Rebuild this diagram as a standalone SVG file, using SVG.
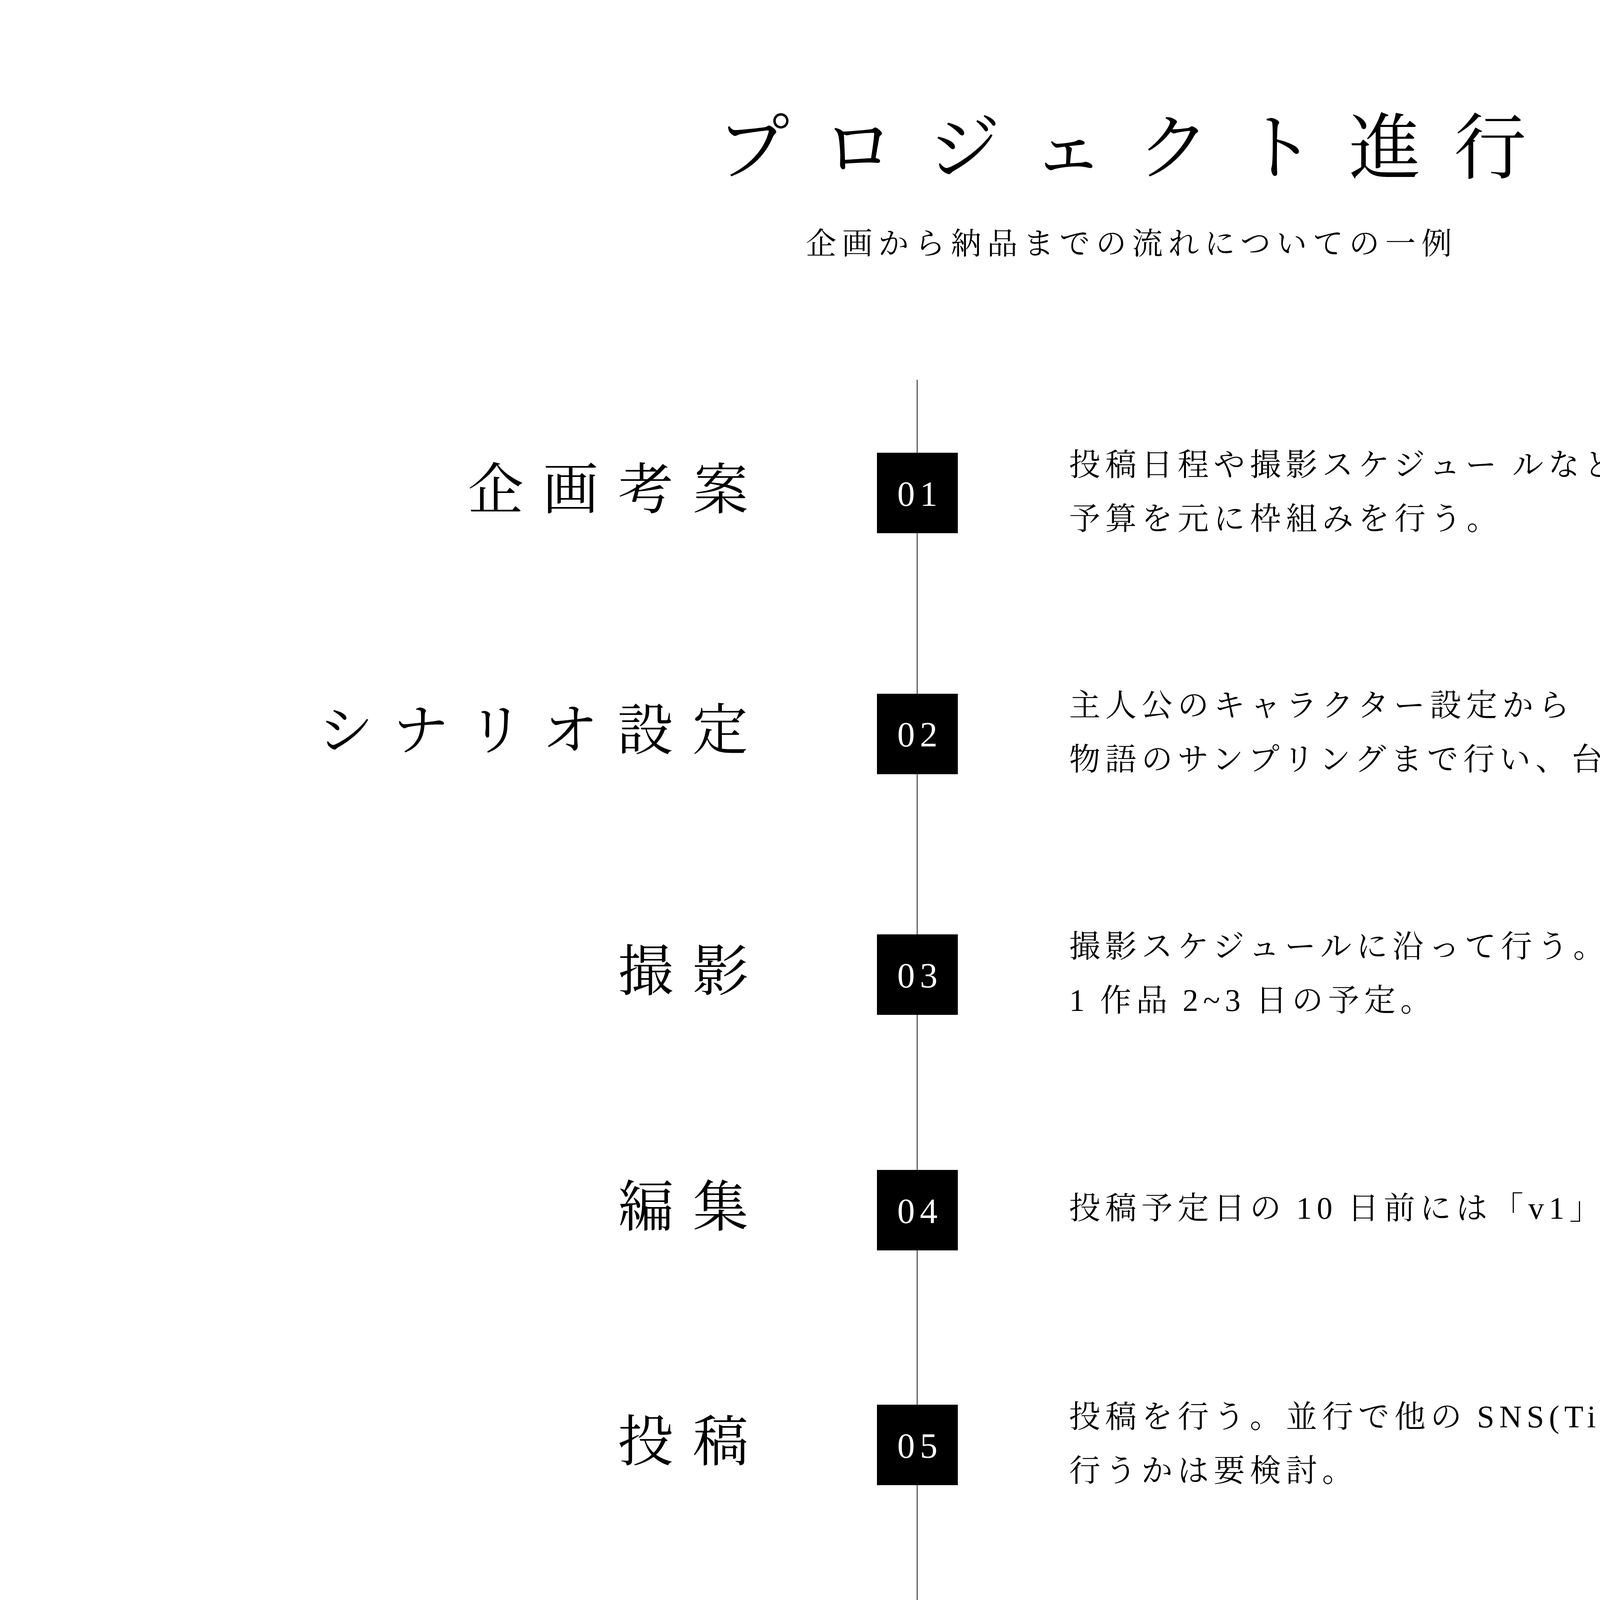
<svg xmlns="http://www.w3.org/2000/svg" width="5797" height="4390" viewBox="0 0 5797 4390">
  <style>
    .jp { font-family: "Liberation Serif", "Noto Serif CJK JP", "Noto Sans CJK JP", serif; fill: #000; }
    .title { font-size: 185px; letter-spacing: 85px; }
    .sub { font-size: 78px; letter-spacing: 14.8px; }
    .head { font-size: 142px; letter-spacing: 50px; }
    .desc { font-size: 80px; letter-spacing: 12.5px; word-spacing: -6px; }
    .box { fill: #000; }
    .num { font-family: "Liberation Serif", serif; font-size: 90px; letter-spacing: 13px; fill: #fff; text-anchor: middle; }
    .axis { stroke: #3a3a3a; stroke-width: 2.5; fill: none; }
  </style>
  <rect x="0" y="0" width="5797" height="4390" fill="#fff"/>
  <g id="connectors">
    <line class="axis" x1="2348" y1="972" x2="2348" y2="4216"/>
  </g>
  <g id="title">
    <text class="jp title" x="1836" y="443">プロジェクト進行</text>
  </g>
  <g id="subtitle">
    <text class="jp sub" x="2063" y="651">企画から納品までの流れについての一例</text>
  </g>
  <g id="step01">
    <text class="jp head" x="1198" y="1303">企画考案</text>
    <rect class="box" x="2245" y="1159" width="207" height="206"/>
    <text class="num" x="2355" y="1295">01</text>
    <text class="jp desc" x="2737" y="1217">投稿日程や撮影スケジュー <tspan x="3871">ルなどを決定し、</tspan></text>
    <text class="jp desc" x="2737" y="1355">予算を元に枠組みを行う。</text>
  </g>
  <g id="step02">
    <text class="jp head" x="814" y="1919">シナリオ設定</text>
    <rect class="box" x="2245" y="1776" width="207" height="206"/>
    <text class="num" x="2355" y="1911">02</text>
    <text class="jp desc" x="2737" y="1833">主人公のキャラクター設定から</text>
    <text class="jp desc" x="2737" y="1971">物語のサンプリングまで行い、台本を作成する。</text>
  </g>
  <g id="step03">
    <text class="jp head" x="1582" y="2536">撮影</text>
    <rect class="box" x="2245" y="2392" width="207" height="206"/>
    <text class="num" x="2355" y="2528">03</text>
    <text class="jp desc" x="2737" y="2450">撮影スケジュールに沿って行う。</text>
    <text class="jp desc" x="2737" y="2588">1 作品 2~3 日の予定。</text>
  </g>
  <g id="step04">
    <text class="jp head" x="1582" y="3139">編集</text>
    <rect class="box" x="2245" y="2995" width="207" height="206"/>
    <text class="num" x="2355" y="3131">04</text>
    <text class="jp desc" x="2737" y="3120">投稿予定日の 10 日前には「v1」としてチェック提出。</text>
  </g>
  <g id="step05">
    <text class="jp head" x="1582" y="3740">投稿</text>
    <rect class="box" x="2245" y="3596" width="207" height="206"/>
    <text class="num" x="2355" y="3732">05</text>
    <text class="jp desc" x="2737" y="3654">投稿を行う。並行で他の SNS(TikTok など ) を</text>
    <text class="jp desc" x="2737" y="3792">行うかは要検討。</text>
  </g>
</svg>
